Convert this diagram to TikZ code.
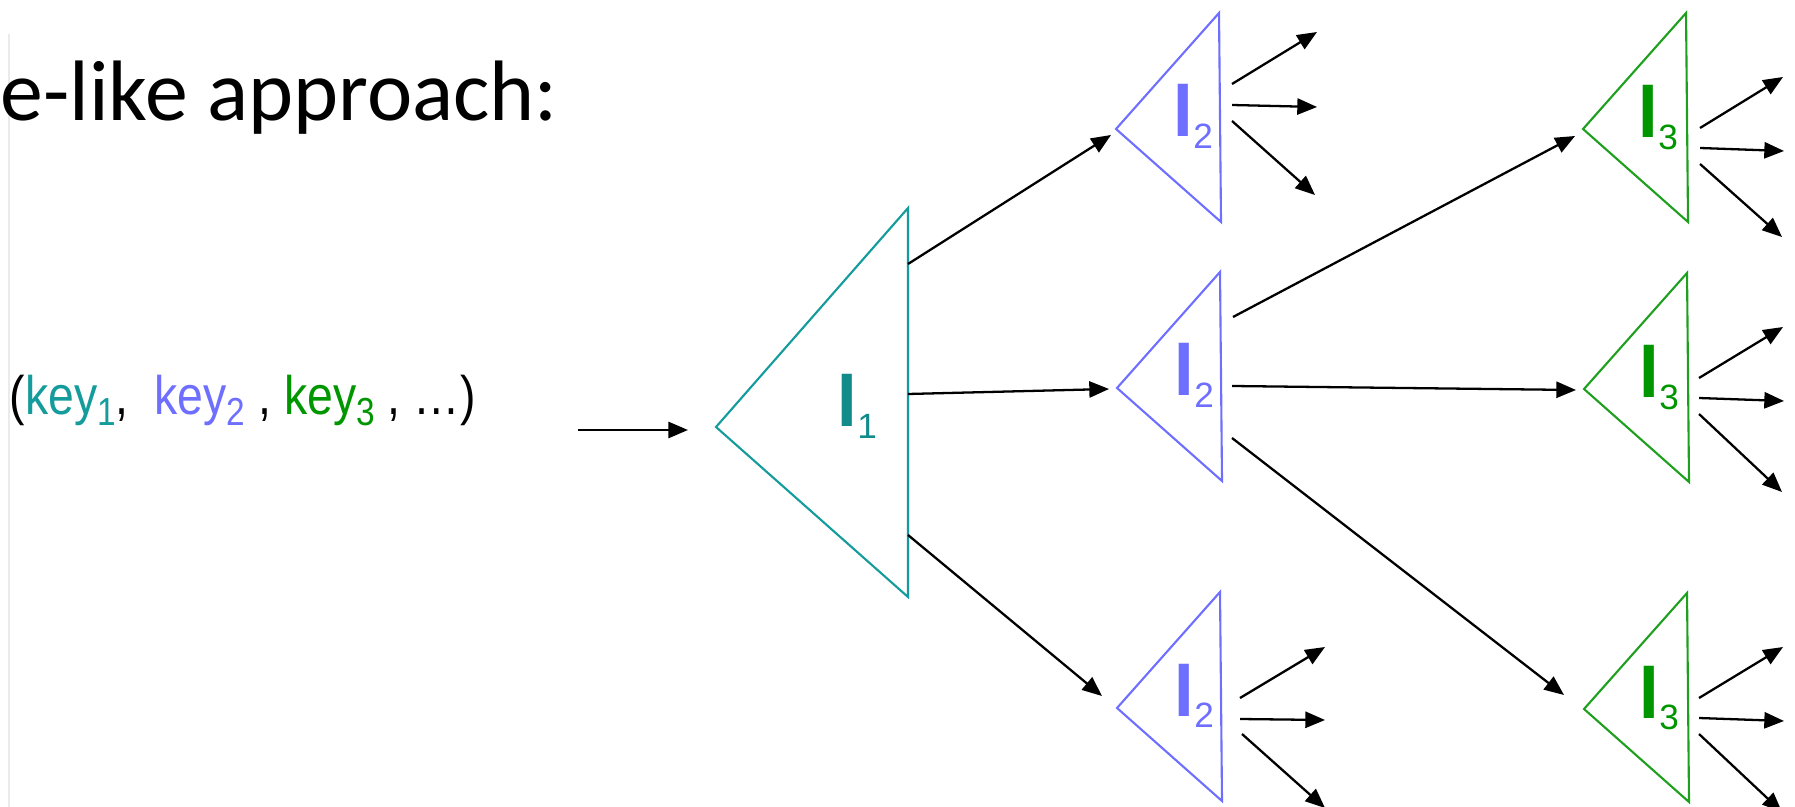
\documentclass[tikz,border=0pt]{standalone}
\usepackage{fontspec}
\setmainfont{Liberation Sans}
\newfontfamily\titlefont{Carlito}
\usetikzlibrary{arrows.meta,calc}

\definecolor{tealI}{RGB}{20,155,155}
\definecolor{blueI}{RGB}{110,110,255}
\definecolor{greenI}{RGB}{30,160,30}
\definecolor{greenK}{RGB}{0,150,0}

\newcommand{\ksub}[1]{\raisebox{-2.6pt}{\fontsize{9.5}{10}\selectfont #1}}
\newcommand{\ilab}[1]{\scalebox{1}[1.08]{\fontsize{20}{20}\selectfont\bfseries I}\raisebox{-3.4pt}{\fontsize{10}{10}\selectfont #1}}

\tikzset{
  arr/.style={-{Triangle[length=5.6pt,width=4.6pt]}, line width=0.65pt},
  tri/.style={line width=0.6pt, line join=miter},
  lab/.style={anchor=base west, inner sep=0pt},
}

\begin{document}
\begin{tikzpicture}[x=0.01cm,y=-0.01cm]
        \useasboundingbox (0,0) rectangle (1795,807);
        \clip (0,0) rectangle (1795,807);

        \coordinate (T1) at (716,427);
        \coordinate (T2a) at (1116,129);
        \coordinate (T2b) at (1117,388);
        \coordinate (T2c) at (1117,708);
        \coordinate (T3a) at (1583,129);
        \coordinate (T3b) at (1584,389);
        \coordinate (T3c) at (1584,709);
        \coordinate (inS) at (578,430);
        \coordinate (inE) at (688,430);

        % faint slide edge
        \draw[black!8, line width=0.4pt] (9,34) -- (9,807);

        \node[lab] (title) at (0,121) {\titlefont\fontsize{24.4}{28}\selectfont e-like approach:};
        \node[lab] (keys) at (9,415) {\scalebox{1}[1.17]{\fontsize{13.2}{16}\selectfont (\textcolor{tealI}{key\ksub{1}}, \ \textcolor{blueI}{key\ksub{2}} , \textcolor{greenK}{key\ksub{3}} , …)}};

        % triangles
        \draw[tri, tealI] (T1) -- ++(192,-219) -- ++(0,389) -- cycle;
        \foreach \t in {T2a,T2b,T2c}
            \draw[tri, blueI] (\t) -- ++(103,-116) -- ++(2,209) -- cycle;
        \foreach \t in {T3a,T3b,T3c}
            \draw[tri, greenI] (\t) -- ++(103,-116) -- ++(2,209) -- cycle;

        \node[lab, text=tealI!90!black] (lab1) at ($(T1)+(121,0)$) {\ilab{1}};
        \node[lab, text=blueI] (lab2a) at ($(T2a)+(57,8)$) {\ilab{2}};
        \node[lab, text=blueI] (lab2b) at ($(T2b)+(57,8)$) {\ilab{2}};
        \node[lab, text=blueI] (lab2c) at ($(T2c)+(57,8)$) {\ilab{2}};
        \node[lab, text=greenK] (lab3a) at ($(T3a)+(55,9)$) {\ilab{3}};
        \node[lab, text=greenK] (lab3b) at ($(T3b)+(55,9)$) {\ilab{3}};
        \node[lab, text=greenK] (lab3c) at ($(T3c)+(55,9)$) {\ilab{3}};

        % connectors
        \draw[arr] (inS) -- (inE);
        \draw[arr] ($(T1)+(192,-163)$) -- ($(T2a)+(-5,6)$);
        \draw[arr] ($(T1)+(192,-33)$) -- ($(T2b)+(-8,1)$);
        \draw[arr] ($(T1)+(192,108)$) -- ($(T2c)+(-15,-12)$);
        \draw[arr] ($(T2b)+(116,-71)$) -- ($(T3a)+(-8,7)$);
        \draw[arr] ($(T2b)+(115,-2)$) -- ($(T3b)+(-8,1)$);
        \draw[arr] ($(T2b)+(115,50)$) -- ($(T3c)+(-20,-14)$);

        % outgoing fans
        \foreach \a/\b/\c/\d in {116/-45/201/-97, 116/-24/201/-22, 116/-8/199/66}
            \draw[arr] ($(T2a)+(\a,\b)$) -- ($(T2a)+(\c,\d)$);
        \foreach \a/\b/\c/\d in {123/-10/208/-61, 123/11/208/12, 125/26/208/100}
            \draw[arr] ($(T2c)+(\a,\b)$) -- ($(T2c)+(\c,\d)$);
        \foreach \a/\b/\c/\d in {117/-1/200/-52, 117/19/201/22, 117/35/199/108}
            \draw[arr] ($(T3a)+(\a,\b)$) -- ($(T3a)+(\c,\d)$);
        \foreach \t in {T3b,T3c}
            \foreach \a/\b/\c/\d in {115/-11/199/-62, 115/9/200/12, 115/25/198/103}
                \draw[arr] ($(\t)+(\a,\b)$) -- ($(\t)+(\c,\d)$);
    \end{tikzpicture}
\end{document}
